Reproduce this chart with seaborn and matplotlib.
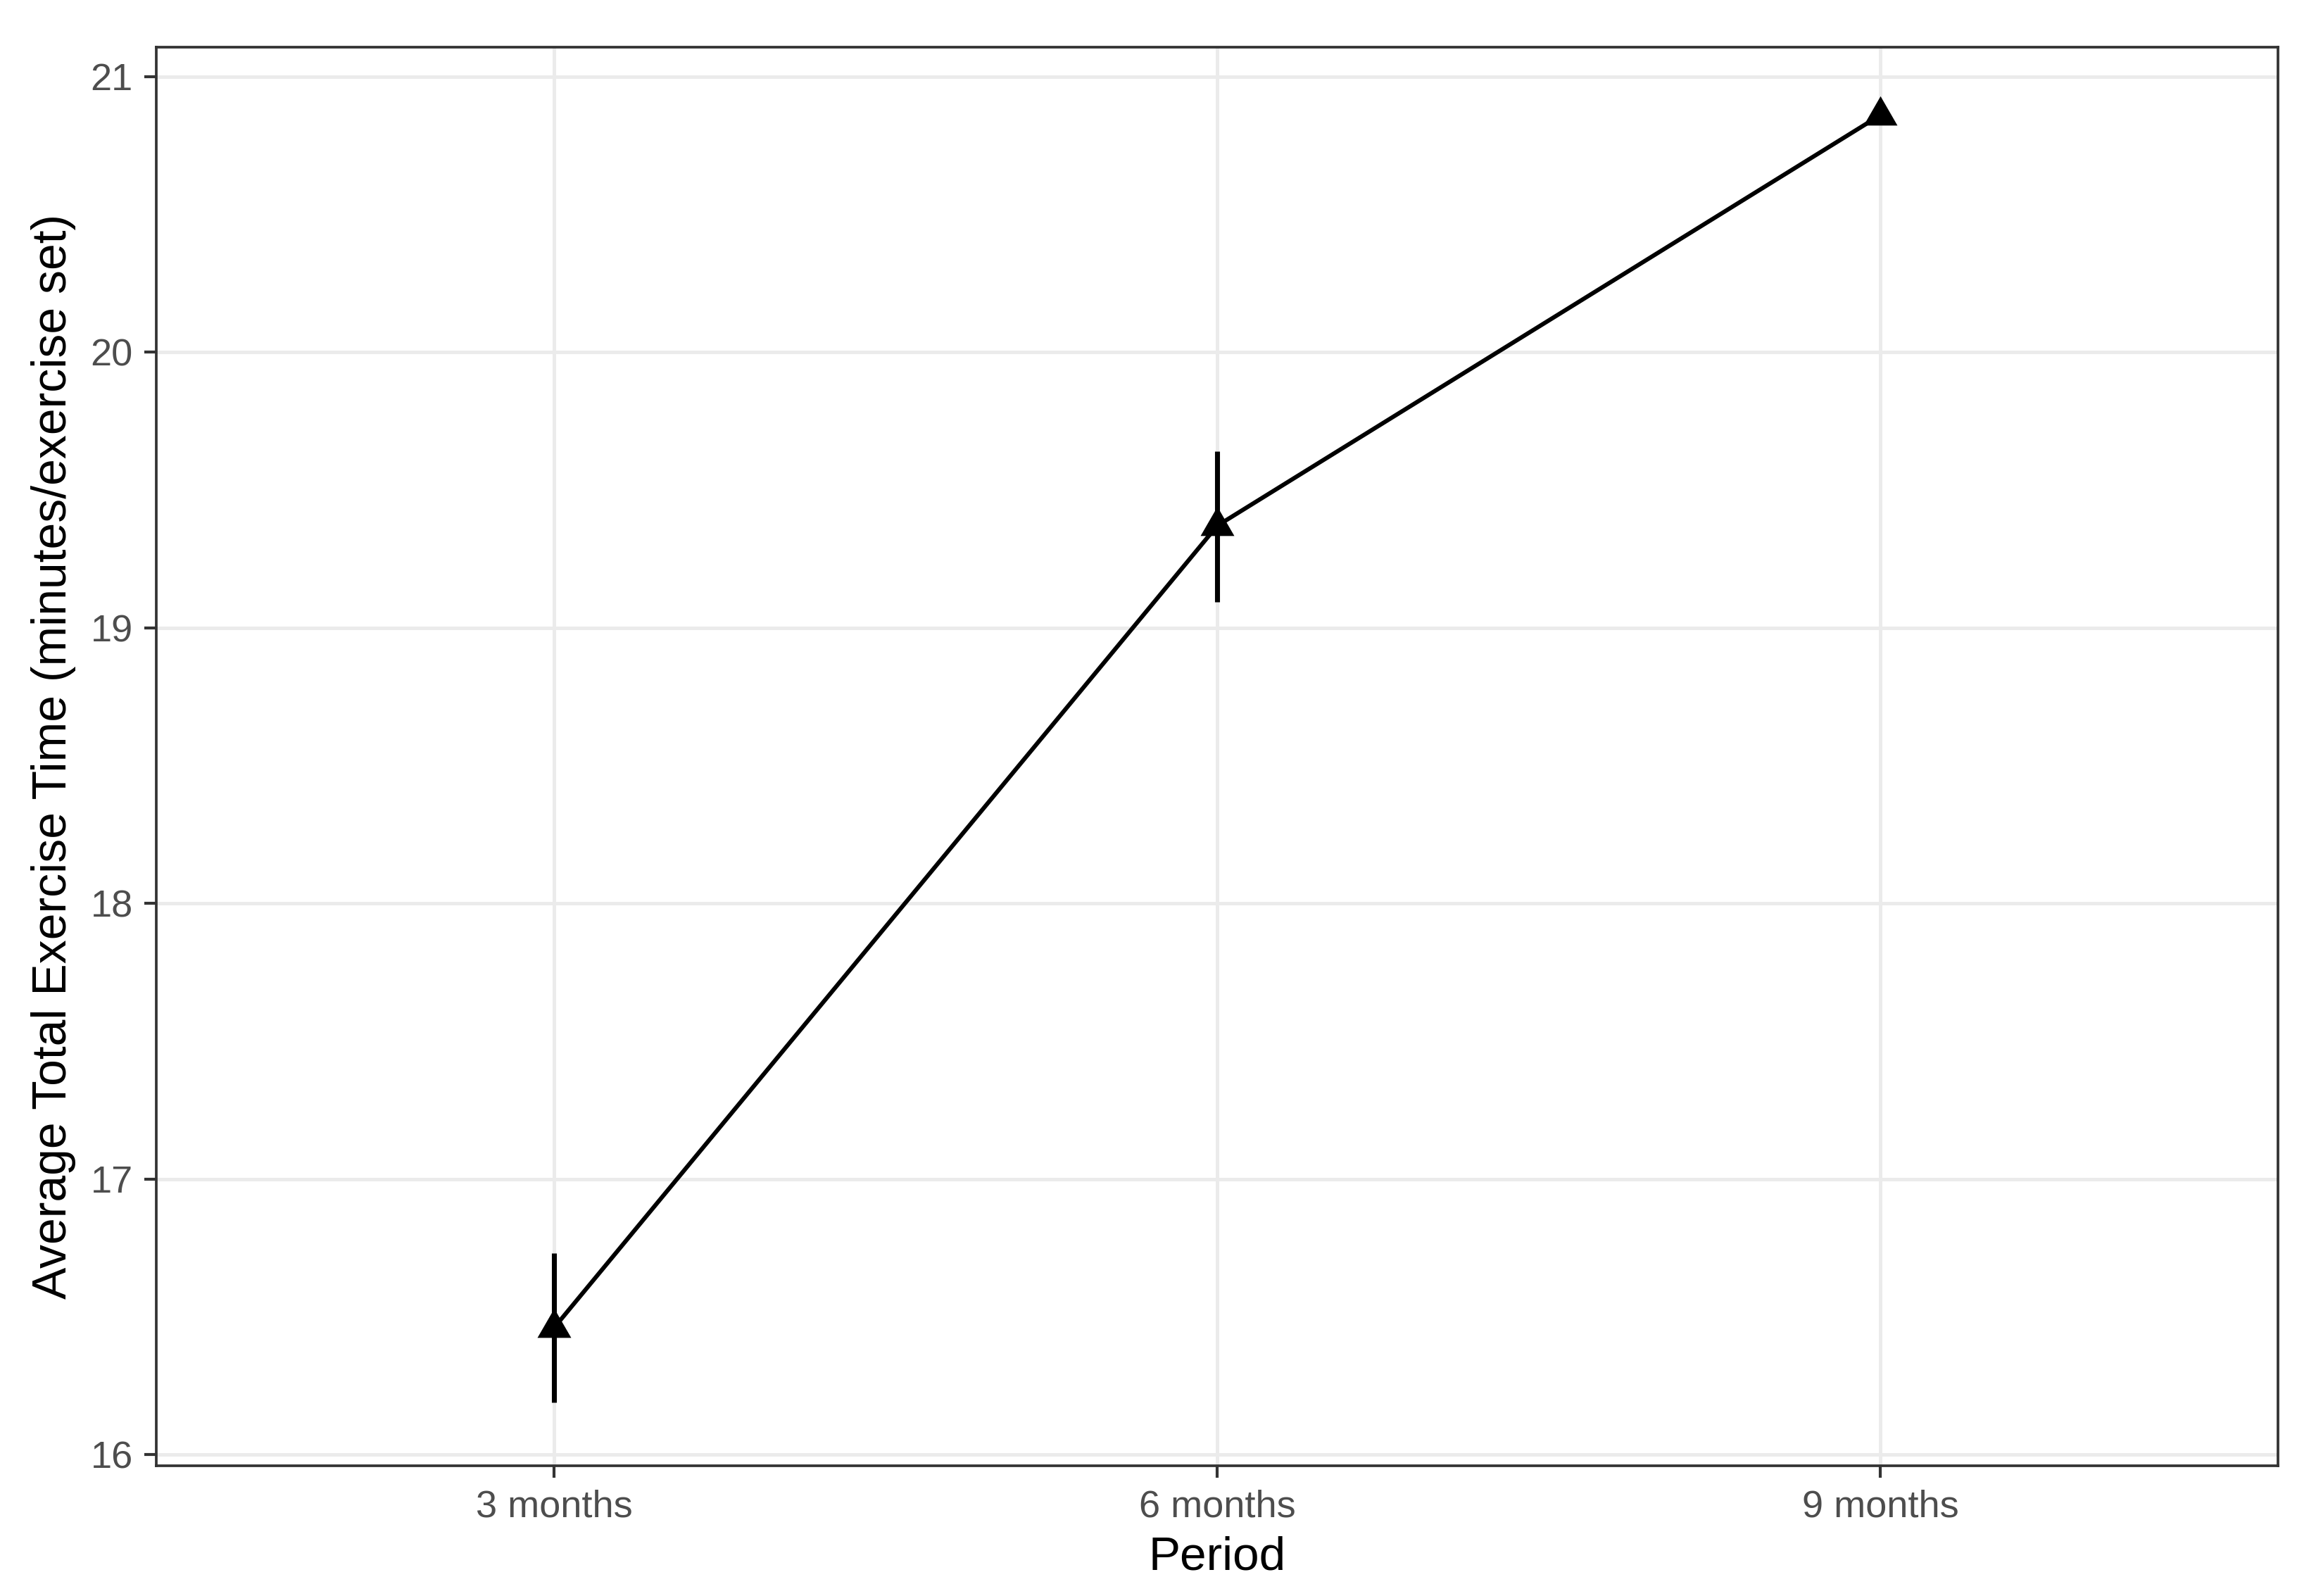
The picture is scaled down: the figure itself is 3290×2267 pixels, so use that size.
import matplotlib
matplotlib.use("Agg")
import matplotlib.pyplot as plt
import seaborn as sns
import pandas as pd

periods = ["3 months", "6 months", "9 months"]
means = [16.46, 19.37, 20.86]
lower = [16.19, 19.095, 20.85]
upper = [16.73, 19.64, 20.87]
y_ticks = [16, 17, 18, 19, 20, 21]

df = pd.DataFrame({"Period": periods, "Mean": means, "Lower": lower, "Upper": upper})

sns.set_theme(style="white")
plt.rcParams["font.family"] = ["Liberation Sans", "DejaVu Sans"]

fig = plt.figure(figsize=(3290 / 300, 2267 / 300), dpi=300)
ax = fig.add_axes([222 / 3290, 1 - 2082 / 2267, (3236 - 222) / 3290, (2082 - 67) / 2267])

sns.lineplot(data=df, x="Period", y="Mean", ax=ax, color="black", linewidth=1.45,
             marker=None, sort=False, zorder=3)
ax.vlines(df["Period"], df["Lower"], df["Upper"], color="black", linewidth=1.7, zorder=3)
tri = [(-1, -0.577), (1, -0.577), (0, 1.155)]
ax.plot(df["Period"], df["Mean"], linestyle="none", marker=tri, markersize=13.3,
        color="black", markeredgewidth=0, zorder=4)

ax.set_xlim(-0.6, 2.6)
ax.set_ylim(15.959, 21.107)
ax.set_yticks(y_ticks)
ax.set_yticklabels([str(t) for t in y_ticks])

ax.grid(True, color="#EBEBEB", linewidth=1.2, zorder=0)
ax.set_axisbelow(True)
for s in ax.spines.values():
    s.set_color("#333333")
    s.set_linewidth(0.9)
    s.set_visible(True)

ax.tick_params(axis="both", which="major", length=4, width=1.0, color="#333333",
               labelcolor="#4D4D4D", labelsize=13, pad=4, left=True, bottom=True)

ax.set_xlabel("Period", fontsize=16.2, color="black", labelpad=4)
ax.set_ylabel("Average Total Exercise Time (minutes/exercise set)", fontsize=16.3,
              color="black", labelpad=5)

fig.savefig("out.png", dpi=300, facecolor="white")
